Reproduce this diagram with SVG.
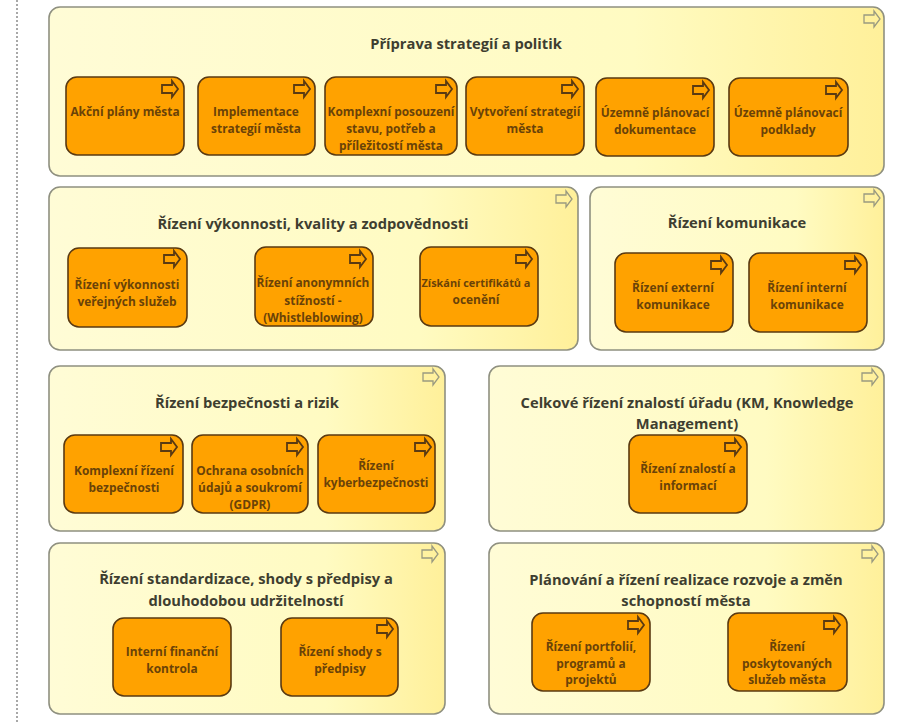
<svg xmlns="http://www.w3.org/2000/svg" width="903" height="724" viewBox="0 0 903 724">
<style>
.g{stroke:#8f9080;stroke-width:1.6}
.n{fill:#ffa200;stroke:#5a3a12;stroke-width:1.6}
.i{fill:none;stroke:#5a3a12;stroke-width:1.8}
.j{fill:none;stroke:#9a9a80;stroke-width:1.3}
text{font-family:"Open Sans","Liberation Sans",sans-serif;font-weight:700;text-anchor:middle}
.t{font-size:14.7px;fill:#3e3e30}
.l{font-size:11.9px;fill:#6a4208}
</style>
<defs>
<linearGradient id="y" x1="0" y1="0" x2="1" y2="0"><stop offset="0" stop-color="#fffcd6"/><stop offset=".7" stop-color="#fffbc2"/><stop offset="1" stop-color="#fff09a"/></linearGradient>
<path id="a" d="M-8-4H2V-8L8 0 2 8V4H-8Z"/>
</defs>
<rect width="903" height="724" fill="#fff"/>
<line x1="17" y1="0" x2="17" y2="724" stroke="#a8a8a8" stroke-width="2" stroke-dasharray="2 2"/>
<g id="connectors"/>
<g id="group-a"><rect class="g" fill="url(#y)" x="49" y="7" width="835" height="169" rx="11"/><use href="#a" class="j" x="872" y="19"/><text class="t" x="466" y="49">Příprava strategií a politik</text></g>
<g id="group-b"><rect class="g" fill="url(#y)" x="49" y="187" width="529" height="163" rx="11"/><use href="#a" class="j" x="564" y="199"/><text class="t" x="313" y="229">Řízení výkonnosti, kvality a zodpovědnosti</text></g>
<g id="group-c"><rect class="g" fill="url(#y)" x="590" y="187" width="294" height="163" rx="11"/><use href="#a" class="j" x="872" y="198"/><text class="t" x="737" y="228">Řízení komunikace</text></g>
<g id="group-d"><rect class="g" fill="url(#y)" x="49" y="366" width="396" height="165" rx="11"/><use href="#a" class="j" x="431" y="377"/><text class="t" x="247" y="408">Řízení bezpečnosti a rizik</text></g>
<g id="group-e"><rect class="g" fill="url(#y)" x="489" y="366" width="395" height="165" rx="11"/><use href="#a" class="j" x="870" y="377"/><text class="t" x="687" y="408">Celkové řízení znalostí úřadu (KM, Knowledge</text><text class="t" x="687" y="429">Management)</text></g>
<g id="group-f"><rect class="g" fill="url(#y)" x="49" y="543" width="396" height="171" rx="11"/><use href="#a" class="j" x="430" y="554"/><text class="t" x="246" y="584">Řízení standardizace, shody s předpisy a</text><text class="t" x="246" y="606">dlouhodobou udržitelností</text></g>
<g id="group-g"><rect class="g" fill="url(#y)" x="489" y="543" width="395" height="171" rx="11"/><use href="#a" class="j" x="870" y="554"/><text class="t" x="686" y="585">Plánování a řízení realizace rozvoje a změn</text><text class="t" x="686" y="606">schopností města</text></g>
<g id="n1"><rect class="n" x="66" y="77" width="118" height="78" rx="11"/><use href="#a" class="i" x="170" y="89"/><text class="l" x="125" y="116">Akční plány města</text></g>
<g id="n2"><rect class="n" x="198" y="77" width="117" height="78" rx="11"/><use href="#a" class="i" x="302" y="89"/><text class="l" x="256" y="116">Implementace</text><text class="l" x="256" y="133">strategií města</text></g>
<g id="n3"><rect class="n" x="325" y="77" width="132" height="78" rx="11"/><use href="#a" class="i" x="444" y="89"/><text class="l" x="391" y="116">Komplexní posouzení</text><text class="l" x="391" y="133">stavu, potřeb a</text><text class="l" x="391" y="150">příležitostí města</text></g>
<g id="n4"><rect class="n" x="466" y="77" width="118" height="78" rx="11"/><use href="#a" class="i" x="570" y="89"/><text class="l" x="525" y="116">Vytvoření strategií</text><text class="l" x="525" y="133">města</text></g>
<g id="n5"><rect class="n" x="596" y="78" width="118" height="78" rx="11"/><use href="#a" class="i" x="701" y="90"/><text class="l" x="655" y="117">Územně plánovací</text><text class="l" x="655" y="134">dokumentace</text></g>
<g id="n6"><rect class="n" x="729" y="78" width="119" height="78" rx="11"/><use href="#a" class="i" x="834" y="90"/><text class="l" x="788" y="117">Územně plánovací</text><text class="l" x="788" y="134">podklady</text></g>
<g id="n7"><rect class="n" x="68" y="248" width="119" height="79" rx="11"/><use href="#a" class="i" x="172" y="259"/><text class="l" x="127" y="289">Řízení výkonnosti</text><text class="l" x="127" y="306">veřejných služeb</text></g>
<g id="n8"><rect class="n" x="255" y="247" width="118" height="79" rx="11"/><use href="#a" class="i" x="358" y="259"/><text class="l" x="313" y="287">Řízení anonymních</text><text class="l" x="313" y="305">stížností -</text><text class="l" x="313" y="322">(Whistleblowing)</text></g>
<g id="n9"><rect class="n" x="420" y="247" width="118" height="79" rx="11"/><use href="#a" class="i" x="524" y="259"/><text class="l" x="476" y="287" style="font-size:10.9px">Získání certifikátů a</text><text class="l" x="476" y="304">ocenění</text></g>
<g id="n10"><rect class="n" x="615" y="253" width="118" height="79" rx="11"/><use href="#a" class="i" x="719" y="265"/><text class="l" x="673" y="292">Řízení externí</text><text class="l" x="673" y="309">komunikace</text></g>
<g id="n11"><rect class="n" x="749" y="253" width="118" height="79" rx="11"/><use href="#a" class="i" x="853" y="265"/><text class="l" x="807" y="292">Řízení interní</text><text class="l" x="807" y="309">komunikace</text></g>
<g id="n12"><rect class="n" x="64" y="435" width="119" height="78" rx="11"/><use href="#a" class="i" x="169" y="447"/><text class="l" x="124" y="475">Komplexní řízení</text><text class="l" x="124" y="492">bezpečnosti</text></g>
<g id="n13"><rect class="n" x="192" y="435" width="116" height="78" rx="11"/><use href="#a" class="i" x="295" y="447"/><text class="l" x="250" y="475">Ochrana osobních</text><text class="l" x="250" y="492">údajů a soukromí</text><text class="l" x="250" y="509">(GDPR)</text></g>
<g id="n14"><rect class="n" x="318" y="435" width="117" height="78" rx="11"/><use href="#a" class="i" x="423" y="447"/><text class="l" x="376" y="470">Řízení</text><text class="l" x="376" y="487">kyberbezpečnosti</text></g>
<g id="n15"><rect class="n" x="629" y="435" width="118" height="78" rx="11"/><use href="#a" class="i" x="733" y="447"/><text class="l" x="688" y="473">Řízení znalostí a</text><text class="l" x="688" y="490">informací</text></g>
<g id="n16"><rect class="n" x="113" y="618" width="118" height="78" rx="11"/><text class="l" x="172" y="656">Interní finanční</text><text class="l" x="172" y="673">kontrola</text></g>
<g id="n17"><rect class="n" x="281" y="618" width="117" height="78" rx="11"/><use href="#a" class="i" x="385" y="629"/><text class="l" x="340" y="656">Řízení shody s</text><text class="l" x="340" y="673">předpisy</text></g>
<g id="n18"><rect class="n" x="532" y="613" width="118" height="78" rx="11"/><use href="#a" class="i" x="636" y="625"/><text class="l" x="591" y="651">Řízení portfolií,</text><text class="l" x="591" y="668">programů a</text><text class="l" x="591" y="684">projektů</text></g>
<g id="n19"><rect class="n" x="728" y="613" width="119" height="78" rx="11"/><use href="#a" class="i" x="832" y="625"/><text class="l" x="787" y="651">Řízení</text><text class="l" x="787" y="668">poskytovaných</text><text class="l" x="787" y="684">služeb města</text></g>
</svg>
